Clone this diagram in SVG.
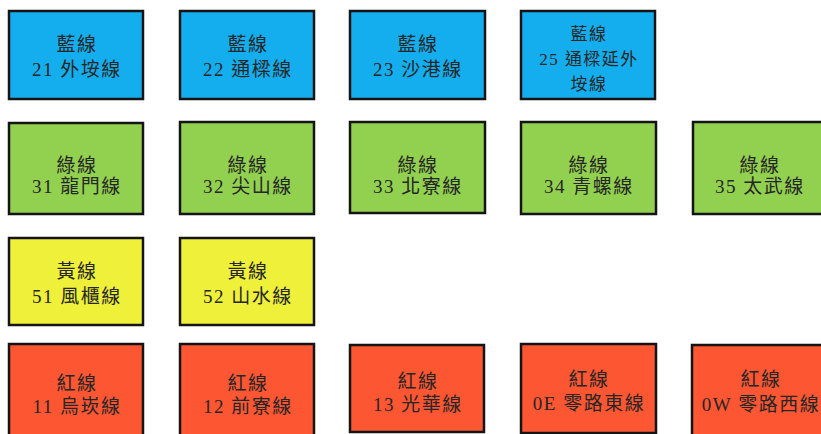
<svg xmlns="http://www.w3.org/2000/svg" width="821" height="434" viewBox="0 0 821 434">
<style>
.b{stroke:#141414;stroke-width:2.5}
.blue{fill:#14AEEE}
.green{fill:#92D050}
.yellow{fill:#EFF03A}
.red{fill:#FC5633}
text{font-family:"Liberation Serif","Noto Sans CJK TC",serif;font-size:19px;fill:#262626;text-anchor:middle;letter-spacing:1.5px}
.s{font-size:17px}
</style>
<rect width="821" height="434" fill="#ffffff"/>
<g id="connectors"></g>
<g id="n21"><rect class="b blue" x="9" y="11" width="134" height="88"/><text x="77" y="51">藍線</text><text x="77" y="76">21 外垵線</text></g>
<g id="n22"><rect class="b blue" x="180" y="11" width="134" height="88"/><text x="248" y="51">藍線</text><text x="248" y="76">22 通樑線</text></g>
<g id="n23"><rect class="b blue" x="350" y="11" width="135" height="88"/><text x="418" y="51">藍線</text><text x="418" y="76">23 沙港線</text></g>
<g id="n25"><rect class="b blue" x="521" y="11" width="134" height="88"/><text class="s" x="589" y="40">藍線</text><text class="s" x="589" y="65">25 通樑延外</text><text class="s" x="589" y="90">垵線</text></g>
<g id="n31"><rect class="b green" x="9" y="123" width="134" height="91"/><text x="77" y="172">綠線</text><text x="77" y="193">31 龍門線</text></g>
<g id="n32"><rect class="b green" x="180" y="122" width="134" height="92"/><text x="248" y="172">綠線</text><text x="248" y="193">32 尖山線</text></g>
<g id="n33"><rect class="b green" x="350" y="122" width="135" height="91"/><text x="418" y="172">綠線</text><text x="418" y="193">33 北寮線</text></g>
<g id="n34"><rect class="b green" x="521" y="122" width="135" height="92"/><text x="589" y="172">綠線</text><text x="589" y="193">34 青螺線</text></g>
<g id="n35"><rect class="b green" x="693" y="122" width="135" height="92"/><text x="760" y="172">綠線</text><text x="760" y="193">35 太武線</text></g>
<g id="n51"><rect class="b yellow" x="9" y="238" width="134" height="87"/><text x="77" y="278">黃線</text><text x="77" y="303">51 風櫃線</text></g>
<g id="n52"><rect class="b yellow" x="180" y="238" width="134" height="87"/><text x="248" y="278">黃線</text><text x="248" y="303">52 山水線</text></g>
<g id="n11"><rect class="b red" x="9" y="344" width="134" height="92"/><text x="77" y="390">紅線</text><text x="77" y="413">11 烏崁線</text></g>
<g id="n12"><rect class="b red" x="180" y="344" width="134" height="92"/><text x="248" y="390">紅線</text><text x="248" y="413">12 前寮線</text></g>
<g id="n13"><rect class="b red" x="350" y="345" width="134" height="87"/><text x="418" y="388">紅線</text><text x="418" y="411">13 光華線</text></g>
<g id="n0E"><rect class="b red" x="521" y="344" width="135" height="89"/><text x="589" y="386">紅線</text><text x="589" y="410">0E 零路東線</text></g>
<g id="n0W"><rect class="b red" x="692" y="345" width="136" height="92"/><text x="761" y="386">紅線</text><text x="761" y="411">0W 零路西線</text></g>
</svg>
